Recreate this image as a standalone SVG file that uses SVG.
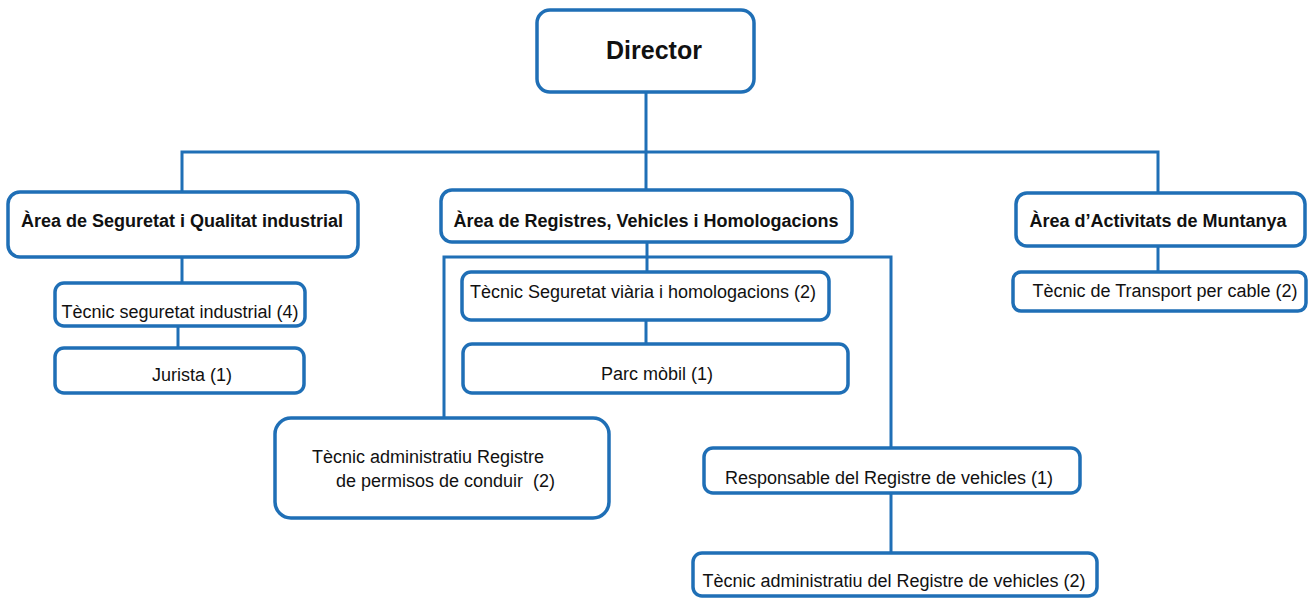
<svg xmlns="http://www.w3.org/2000/svg" width="1311" height="599" viewBox="0 0 1311 599">
<style>
.box{fill:#fff;stroke:#1f6fb6;stroke-width:3.5}
.ln{fill:none;stroke:#1f6fb6;stroke-width:3}
text{font-family:"Liberation Sans",Arial,sans-serif;fill:#111}
.b{font-weight:bold;font-size:18px}
.r{font-size:18px}
</style>
<rect width="1311" height="599" fill="#fff"/>
<g id="connectors">
<path class="ln" d="M646 92V190"/>
<path class="ln" d="M182 192V152H1158V193"/>
<path class="ln" d="M182 257V283"/>
<path class="ln" d="M178 326V348"/>
<path class="ln" d="M647 242V272"/>
<path class="ln" d="M444 418V257H891V448"/>
<path class="ln" d="M646 320V344"/>
<path class="ln" d="M891 493V553"/>
<path class="ln" d="M1158 246V272"/>
</g>
<g id="director">
<rect class="box" x="537" y="10" width="217" height="82" rx="13"/>
<text x="654" y="59" text-anchor="middle" font-weight="bold" font-size="25">Director</text>
</g>
<g id="area-seguretat">
<rect class="box" x="8" y="192" width="350" height="65" rx="12"/>
<text class="b" x="182" y="227" text-anchor="middle">Àrea de Seguretat i Qualitat industrial</text>
</g>
<g id="tecnic-seguretat-industrial">
<rect class="box" x="55" y="283" width="250" height="43" rx="9"/>
<text class="r" x="180" y="318" text-anchor="middle">Tècnic seguretat industrial (4)</text>
</g>
<g id="jurista">
<rect class="box" x="55" y="348" width="249" height="45" rx="9"/>
<text class="r" x="192" y="381" text-anchor="middle">Jurista (1)</text>
</g>
<g id="area-registres">
<rect class="box" x="441" y="190" width="411" height="52" rx="11"/>
<text class="b" x="646" y="227" text-anchor="middle">Àrea de Registres, Vehicles i Homologacions</text>
</g>
<g id="tecnic-seguretat-viaria">
<rect class="box" x="462" y="272" width="367" height="48" rx="9"/>
<text class="r" x="643" y="298" text-anchor="middle">Tècnic Seguretat viària i homologacions (2)</text>
</g>
<g id="parc-mobil">
<rect class="box" x="463" y="344" width="385" height="49" rx="9"/>
<text class="r" x="657" y="380" text-anchor="middle">Parc mòbil (1)</text>
</g>
<g id="tecnic-permisos">
<rect class="box" x="275" y="418" width="334" height="100" rx="16"/>
<text class="r" x="312" y="463">Tècnic administratiu Registre</text>
<text class="r" x="336" y="487" xml:space="preserve">de permisos de conduir  (2)</text>
</g>
<g id="responsable-registre">
<rect class="box" x="704" y="448" width="376" height="45" rx="9"/>
<text class="r" x="889" y="484" text-anchor="middle">Responsable del Registre de vehicles (1)</text>
</g>
<g id="tecnic-registre-vehicles">
<rect class="box" x="693" y="553" width="404" height="43" rx="9"/>
<text class="r" x="894" y="587" text-anchor="middle">Tècnic administratiu del Registre de vehicles (2)</text>
</g>
<g id="area-muntanya">
<rect class="box" x="1016" y="193" width="289" height="53" rx="11"/>
<text class="b" x="1158" y="227" text-anchor="middle">Àrea d’Activitats de Muntanya</text>
</g>
<g id="tecnic-transport-cable">
<rect class="box" x="1013" y="272" width="293" height="39" rx="8"/>
<text class="r" x="1165" y="297" text-anchor="middle">Tècnic de Transport per cable (2)</text>
</g>
</svg>
